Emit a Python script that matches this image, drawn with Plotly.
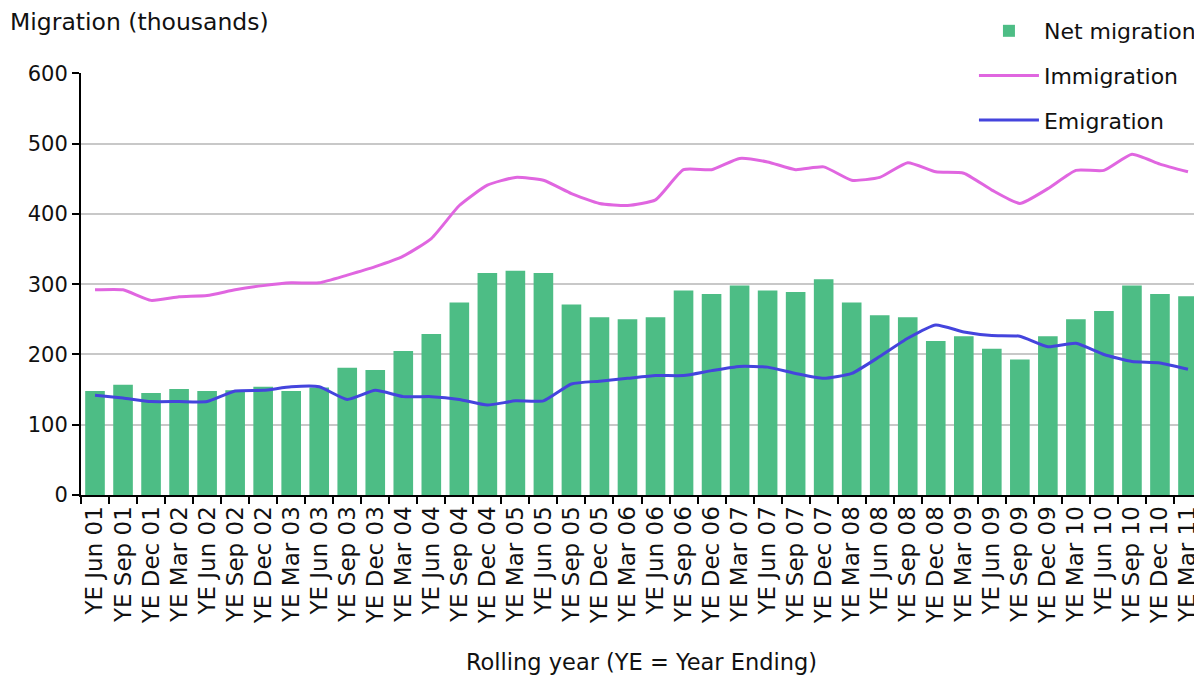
import plotly.graph_objects as go

categories = ["YE Jun 01", "YE Sep 01", "YE Dec 01", "YE Mar 02", "YE Jun 02", "YE Sep 02",
              "YE Dec 02", "YE Mar 03", "YE Jun 03", "YE Sep 03", "YE Dec 03", "YE Mar 04",
              "YE Jun 04", "YE Sep 04", "YE Dec 04", "YE Mar 05", "YE Jun 05", "YE Sep 05",
              "YE Dec 05", "YE Mar 06", "YE Jun 06", "YE Sep 06", "YE Dec 06", "YE Mar 07",
              "YE Jun 07", "YE Sep 07", "YE Dec 07", "YE Mar 08", "YE Jun 08", "YE Sep 08",
              "YE Dec 08", "YE Mar 09", "YE Jun 09", "YE Sep 09", "YE Dec 09", "YE Mar 10",
              "YE Jun 10", "YE Sep 10", "YE Dec 10", "YE Mar 11"]

net_migration = [148, 157, 145, 151, 148, 149, 154, 148, 153, 181,
                 178, 205, 229, 274, 316, 319, 316, 271, 253, 250,
                 253, 291, 286, 298, 291, 289, 307, 274, 256, 253,
                 219, 226, 208, 193, 226, 250, 262, 298, 286, 283]

immigration = [292, 292, 277, 282, 284, 292, 298, 302, 302, 313,
               325, 340, 365, 412, 441, 452, 448, 429, 415, 412,
               420, 463, 463, 479, 474, 463, 467, 448, 452, 473,
               460, 458, 434, 415, 436, 462, 462, 485, 471, 460]

emigration = [142, 138, 133, 133, 133, 148, 149, 154, 154, 136,
              149, 140, 140, 136, 128, 134, 134, 158, 162, 166,
              170, 170, 177, 183, 182, 173, 166, 173, 197, 223,
              242, 232, 227, 226, 211, 216, 200, 190, 188, 179]

y_ticks = [0, 100, 200, 300, 400, 500, 600]

FONT = "DejaVu Sans"
TXT = "#111111"

fig = go.Figure()
fig.add_trace(go.Bar(x=categories, y=net_migration, name="Net migration",
                     marker=dict(color="#4dbd85", line=dict(width=0)),
                     legendgroup="a"))
fig.add_trace(go.Scatter(x=categories, y=immigration, name="Immigration", mode="lines",
                         line=dict(color="#e066e0", width=3, shape="spline", smoothing=0.5),
                         legendgroup="b"))
fig.add_trace(go.Scatter(x=categories, y=emigration, name="Emigration", mode="lines",
                         line=dict(color="#4444dd", width=3, shape="spline", smoothing=0.5),
                         legendgroup="c"))

# the page body adds an 8px offset, so the figure is sized to the visible area
fig.update_layout(
    width=1194, height=670,
    margin=dict(l=73, r=0, t=65, b=183, autoexpand=False),
    paper_bgcolor="white", plot_bgcolor="white",
    font=dict(family=FONT, size=22, color=TXT),
    bargap=0.3,
    showlegend=True,
    legend=dict(xref="container", yref="container",
                x=0.809, xanchor="left", y=0.997, yanchor="top",
                bgcolor="white", borderwidth=0,
                font=dict(family=FONT, size=22, color=TXT),
                traceorder="grouped", tracegroupgap=13, itemwidth=60),
    xaxis=dict(type="category", range=[-0.5, 39.5], automargin=False,
               showline=True, linecolor="black", linewidth=2,
               ticks="outside", tickson="boundaries", ticklen=7, tickcolor="black", tickwidth=2,
               tickangle=-90, tickfont=dict(family=FONT, size=23, color=TXT),
               showgrid=False,
               title=dict(text="Rolling year (YE = Year Ending)", standoff=31,
                          font=dict(family=FONT, size=22.5, color=TXT))),
    yaxis=dict(range=[0, 600.6], tickvals=y_ticks, automargin=False,
               showline=True, linecolor="black", linewidth=2,
               ticks="outside", ticklen=7, tickcolor="black", tickwidth=2,
               tickfont=dict(family=FONT, size=21, color=TXT),
               showgrid=True, gridcolor="#c8c8c8", gridwidth=1.5,
               zeroline=False),
    annotations=[dict(text="Migration (thousands)", xref="paper", yref="paper",
                      x=-0.065, y=1.121, xanchor="left", yanchor="middle",
                      showarrow=False, font=dict(family=FONT, size=23.5, color=TXT))],
)

fig.write_html("out.html")
